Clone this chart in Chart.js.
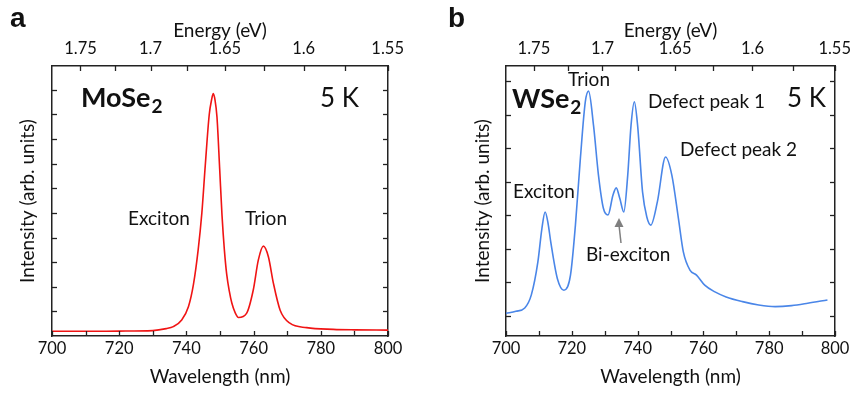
<!DOCTYPE html>
<html>
<head>
<meta charset="utf-8">
<script src="https://cdn.jsdelivr.net/npm/chart.js@4.4.1/dist/chart.umd.min.js"></script>
<style>
  html, body { margin: 0; padding: 0; background: #fff; }
  #wrap { position: relative; width: 858px; height: 393px; }
  .panel { position: absolute; top: 0; width: 429px; height: 393px; }
  #panelA { left: 0; }
  #panelB { left: 429px; }
</style>
</head>
<body>
<div id="wrap">
  <div class="panel" id="panelA"><canvas id="chartA" width="429" height="393"></canvas></div>
  <div class="panel" id="panelB"><canvas id="chartB" width="429" height="393"></canvas></div>
</div>
<script>
// eV <-> nm
const EV_NM = 1239.84;

// axis ticks
const wavelengthTicks = [700, 710, 720, 730, 740, 750, 760, 770, 780, 790, 800];
const wavelengthLabels = ['700', '', '720', '', '740', '', '760', '', '780', '', '800'];
const energyTicks = [1.75, 1.725, 1.7, 1.675, 1.65, 1.625, 1.6, 1.575, 1.55];
const energyLabels = ['1.75', '', '1.7', '', '1.65', '', '1.6', '', '1.55'];
const moIntensityTicks = [1, 2, 3, 4, 5, 6, 7, 8, 9, 10];
const wIntensityTicks = [1, 2, 3, 4, 5, 6, 7, 8];

// MoSe2 spectrum
const moWavelength = [700, 710, 720, 730, 734, 736.1, 738.6, 740.6, 742.1, 743.5, 744.6, 745.6, 746.8, 747.5,
    748.0, 748.5, 749.1, 749.9, 750.6, 751.3, 752.0, 752.8, 753.5, 754.5, 755.5, 757.9, 759.9, 761.4,
    762.9, 764.4, 765.9, 767.9, 770.8, 775.8, 783.7, 790, 800];
const moIntensity = [0.19, 0.19, 0.2, 0.22, 0.3, 0.38, 0.65, 1.19, 2.1, 3.5, 5.0, 6.9, 9.0, 9.6,
    9.85, 9.6, 8.9, 6.8, 4.9, 3.5, 2.5, 1.8, 1.35, 0.95, 0.75, 0.92, 1.87, 3.08,
    3.65, 3.22, 2.14, 1.05, 0.52, 0.34, 0.27, 0.25, 0.24];

// WSe2 spectrum
const wWavelength = [700, 703, 705.7, 707.7, 709.7, 710.9, 711.9, 712.8, 713.6, 715.6, 717.6, 719.6, 721.1,
    722.6, 724.1, 725.1, 726.6, 728.1, 729.6, 731.0, 732.5, 733.5, 734.6, 735.8, 737.0, 738.0, 739.0,
    740.0, 741.5, 742.8, 744.0, 746.0, 748.5, 750.4, 752.4, 753.9, 755.9, 757.9, 760.4, 763.5, 766.9,
    771.9, 776.8, 781.8, 786.8, 791.7, 797.7];
const wIntensity = [1.08, 1.14, 1.24, 1.63, 2.62, 3.6, 4.10, 3.75, 3.21, 2.12, 1.77, 2.22, 3.71,
    5.69, 7.38, 7.70, 6.68, 5.20, 4.21, 4.01, 4.60, 4.82, 4.5, 4.10, 5.20, 6.68, 7.38,
    6.68, 4.70, 3.95, 3.71, 4.40, 5.74, 5.20, 3.91, 2.91, 2.37, 2.22, 1.92, 1.72, 1.57,
    1.43, 1.33, 1.28, 1.31, 1.38, 1.48];

const FONT = 'Lato, "Open Sans", sans-serif';
const INK = '#111';
const FRAME = '#222';

Chart.defaults.font.family = FONT;
Chart.defaults.color = INK;

// ticks inside the frame, on all four sides
const innerTicks = {
    id: 'innerTicks',
    afterDraw(chart) {
        const ctx = chart.ctx;
        const area = chart.chartArea;
        const len = 5;
        ctx.save();
        ctx.strokeStyle = FRAME;
        ctx.lineWidth = 1.3;
        Object.values(chart.scales).forEach(scale => {
            scale.ticks.forEach(t => {
                const p = Math.round(scale.getPixelForValue(t.value)) + 0.5;
                ctx.beginPath();
                if (scale.position === 'bottom') {
                    ctx.moveTo(p, area.bottom); ctx.lineTo(p, area.bottom - len);
                } else if (scale.position === 'top') {
                    ctx.moveTo(p, area.top); ctx.lineTo(p, area.top + len);
                } else if (scale.position === 'left') {
                    ctx.moveTo(area.left, p); ctx.lineTo(area.left + len, p);
                } else {
                    ctx.moveTo(area.right, p); ctx.lineTo(area.right - len, p);
                }
                ctx.stroke();
            });
        });
        ctx.restore();
    }
};

// free text labels: panel letter, material, temperature, peak names
const annotations = {
    id: 'annotations',
    afterDraw(chart, args, opts) {
        const ctx = chart.ctx;
        ctx.save();
        ctx.textAlign = 'left';
        ctx.textBaseline = 'alphabetic';
        ctx.fillStyle = INK;
        (opts.items || []).forEach(it => {
            ctx.font = it.font;
            ctx.fillText(it.text, it.x, it.y);
            if (it.sub) {
                const w = ctx.measureText(it.text).width;
                ctx.font = it.subFont;
                ctx.fillText(it.sub, it.x + w + 1, it.y + 6);
            }
        });
        if (opts.arrow) {
            const a = opts.arrow;
            ctx.strokeStyle = '#7f7f7f';
            ctx.fillStyle = '#7f7f7f';
            ctx.lineWidth = 1.5;
            ctx.beginPath();
            ctx.moveTo(a.x0, a.y0);
            ctx.lineTo(a.x1, a.y1 + 7);
            ctx.stroke();
            ctx.beginPath();
            ctx.moveTo(a.x1, a.y1);
            ctx.lineTo(a.x1 - 4.5, a.y1 + 9);
            ctx.lineTo(a.x1 + 4.5, a.y1 + 9);
            ctx.closePath();
            ctx.fill();
        }
        ctx.restore();
    }
};

function makePanel(canvasId, cfg) {
    const points = cfg.xs.map((x, i) => ({ x: x, y: cfg.ys[i] }));
    const axisBorder = { display: true, color: FRAME, width: 1.5 };
    return new Chart(document.getElementById(canvasId), {
        type: 'line',
        data: {
            datasets: [{
                data: points,
                borderColor: cfg.color,
                borderWidth: 1.6,
                pointRadius: 0,
                cubicInterpolationMode: 'monotone',
                fill: false
            }]
        },
        options: {
            responsive: false,
            animation: false,
            devicePixelRatio: 1,
            layout: { padding: { left: 0, right: cfg.padRight, top: 0, bottom: 0 } },
            plugins: {
                legend: { display: false },
                tooltip: { enabled: false },
                annotations: { items: cfg.items, arrow: cfg.arrow }
            },
            scales: {
                x: {
                    type: 'linear', position: 'bottom', min: 700, max: 800,
                    afterBuildTicks: s => { s.ticks = wavelengthTicks.map(v => ({ value: v })); },
                    afterFit: s => { s.height = 57; },
                    grid: { display: false, drawTicks: false },
                    border: axisBorder,
                    ticks: {
                        padding: 3, autoSkip: false, maxRotation: 0, color: INK,
                        font: { size: 16.5 },
                        callback: (v, i) => wavelengthLabels[i]
                    },
                    title: { display: true, text: 'Wavelength (nm)', color: INK, font: { size: 19 }, padding: { top: 0, bottom: 4.5 } }
                },
                xTop: {
                    type: 'linear', position: 'top', min: 700, max: 800,
                    afterBuildTicks: s => { s.ticks = energyTicks.map(e => ({ value: EV_NM / e })); },
                    afterFit: s => { s.height = 66; },
                    grid: { display: false, drawTicks: false },
                    border: axisBorder,
                    ticks: {
                        padding: 7, autoSkip: false, maxRotation: 0, color: INK,
                        font: { size: 16.5 },
                        callback: (v, i) => energyLabels[i]
                    },
                    title: { display: true, text: 'Energy (eV)', color: INK, font: { size: 19 }, padding: { top: 19.5, bottom: 0 } }
                },
                y: {
                    type: 'linear', position: 'left', min: cfg.yMin, max: cfg.yMax,
                    afterBuildTicks: s => { s.ticks = cfg.yTicks.map(v => ({ value: v })); },
                    afterFit: s => { s.width = cfg.leftWidth; },
                    grid: { display: false, drawTicks: false },
                    border: axisBorder,
                    ticks: { display: false },
                    title: { display: true, text: 'Intensity (arb. units)', color: INK, font: { size: 19 }, padding: { top: cfg.yTitlePad, bottom: 0 } }
                },
                yRight: {
                    type: 'linear', position: 'right', min: cfg.yMin, max: cfg.yMax,
                    afterBuildTicks: s => { s.ticks = cfg.yTicks.map(v => ({ value: v })); },
                    afterFit: s => { s.width = 0; },
                    grid: { display: false, drawTicks: false },
                    border: axisBorder,
                    ticks: { display: false }
                }
            }
        },
        plugins: [innerTicks, annotations]
    });
}

const BIG = '26px ' + FONT;
const BIG_BOLD = 'bold 27px ' + FONT;
const SUB_BOLD = 'bold 19px ' + FONT;
const LABEL = '19px ' + FONT;
const LETTER = 'bold 28px "Liberation Sans", Arial, sans-serif';

makePanel('chartA', {
    xs: moWavelength, ys: moIntensity, color: '#f01414',
    yMin: 0, yMax: 10.97, yTicks: moIntensityTicks,
    leftWidth: 52, padRight: 41, yTitlePad: 16.5,
    items: [
        { text: 'a', x: 10, y: 27, font: LETTER },
        { text: 'MoSe', x: 81, y: 107, font: BIG_BOLD, sub: '2', subFont: SUB_BOLD },
        { text: '5 K', x: 320, y: 107, font: BIG },
        { text: 'Exciton', x: 128, y: 225, font: LABEL },
        { text: 'Trion', x: 245, y: 225, font: LABEL }
    ]
});

makePanel('chartB', {
    xs: wWavelength, ys: wIntensity, color: '#4a86e8',
    yMin: 0.405, yMax: 8.45, yTicks: wIntensityTicks,
    leftWidth: 77, padRight: 17, yTitlePad: 42.5,
    items: [
        { text: 'b', x: 19, y: 27, font: LETTER },
        { text: 'Trion', x: 139, y: 86, font: LABEL },
        { text: 'WSe', x: 83, y: 108, font: BIG_BOLD, sub: '2', subFont: SUB_BOLD },
        { text: 'Defect peak 1', x: 219, y: 108, font: LABEL },
        { text: '5 K', x: 358, y: 107, font: BIG },
        { text: 'Defect peak 2', x: 251, y: 156, font: LABEL },
        { text: 'Exciton', x: 84, y: 198, font: LABEL },
        { text: 'Bi-exciton', x: 157, y: 261, font: LABEL }
    ],
    arrow: { x0: 192, y0: 243, x1: 190, y1: 218 }
});
</script>
</body>
</html>
